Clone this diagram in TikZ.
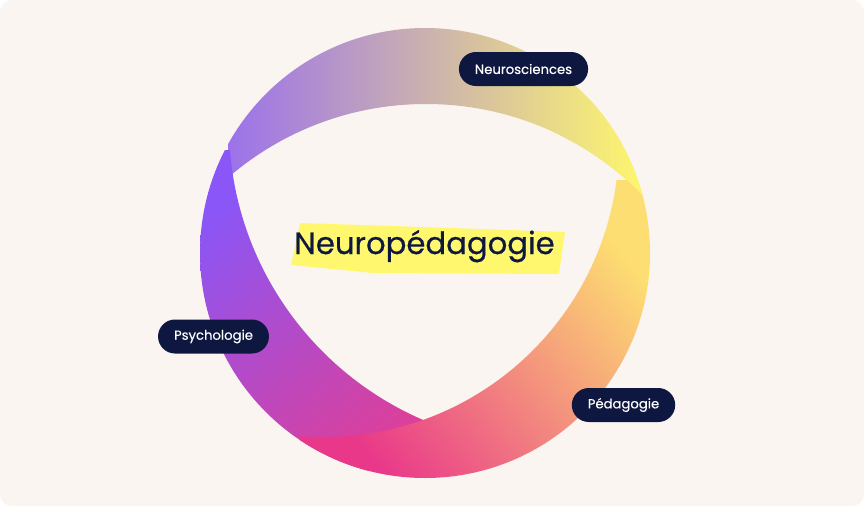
\documentclass[tikz,border=0pt]{standalone}
\usepackage{fontspec}
\setmainfont{Poppins}
\newfontfamily\titrefont[FakeBold=0.6]{Poppins}
\newfontfamily\pastillefont[FakeBold=0.3]{Poppins}
\usetikzlibrary{positioning}
\definecolor{fond}{HTML}{FAF5F1}
\definecolor{marine}{HTML}{0E1740}
\definecolor{surligne}{HTML}{FFF86E}
\definecolor{violetT}{HTML}{9C72EA}
\definecolor{jauneT}{HTML}{FFF86C}
\definecolor{violetL}{HTML}{8A56F7}
\definecolor{roseL}{HTML}{DA409C}
\definecolor{roseB}{HTML}{E9388A}
\definecolor{jauneB}{HTML}{FDDE72}
\tikzset{
    pastille/.style = {rectangle, rounded corners=17pt, fill=marine, text=white, font=\pastillefont\fontsize{13.2}{16}\selectfont, minimum height=34pt, inner xsep=16pt, inner ysep=0pt},
    titre/.style = {font=\titrefont\fontsize{30.7}{36}\selectfont, text=marine, anchor=base, inner sep=0pt},
}

\begin{document}
\begin{tikzpicture}[x=1pt, y=-1pt]
\useasboundingbox (0,0) rectangle (864,506);
\fill[white] (0,0) rectangle (864,506);
\fill[fond, rounded corners=12pt] (0,0) rectangle (864,506);
%
\coordinate (o) at (425,253);
\coordinate (ct) at (426,407);
\coordinate (cl) at (550,125);
\coordinate (cb) at (324,142);
%
% bande du haut
\begin{scope}[even odd rule]
  \clip (o) circle[radius=225pt];
  \clip (o) circle[radius=225pt] (ct) circle[radius=303pt];
  \shade[left color=violetT, right color=jauneT] (228,28) rectangle (648,200);
\end{scope}
% bande de gauche
\begin{scope}[even odd rule]
  \clip (o) circle[radius=225pt];
  \clip (o) circle[radius=225pt] (cl) circle[radius=321pt];
  \shade[top color=violetL, bottom color=roseL, shading angle=38] (200,150) rectangle (430,470);
\end{scope}
% bande du bas
\begin{scope}[even odd rule]
  \clip (o) circle[radius=225pt];
  \clip (o) circle[radius=225pt] (cb) circle[radius=295pt];
  \shade[top color=jauneB, bottom color=roseB, shading angle=-51] (300,180) rectangle (650,478);
\end{scope}
% bande du haut, par-dessus a droite
\begin{scope}[even odd rule]
  \clip (560,100) rectangle (660,230);
  \clip (o) circle[radius=225pt];
  \clip (o) circle[radius=225pt] (ct) circle[radius=303pt];
  \shade[left color=violetT, right color=jauneT] (228,28) rectangle (648,200);
\end{scope}
%
\fill[surligne] (300,223) -- (423,227) -- (565,232) -- (559,274) -- (373,273) -- (291,265) -- cycle;
\node[titre] at (424.5,254) (neuroped) {Neuropédagogie};
%
\node[pastille] at (523.5,69) (neuro) {Neurosciences};
\node[pastille] at (213.5,336.5) (psycho) {Psychologie};
\node[pastille] at (623.5,405) (peda) {Pédagogie};
\end{tikzpicture}
\end{document}
